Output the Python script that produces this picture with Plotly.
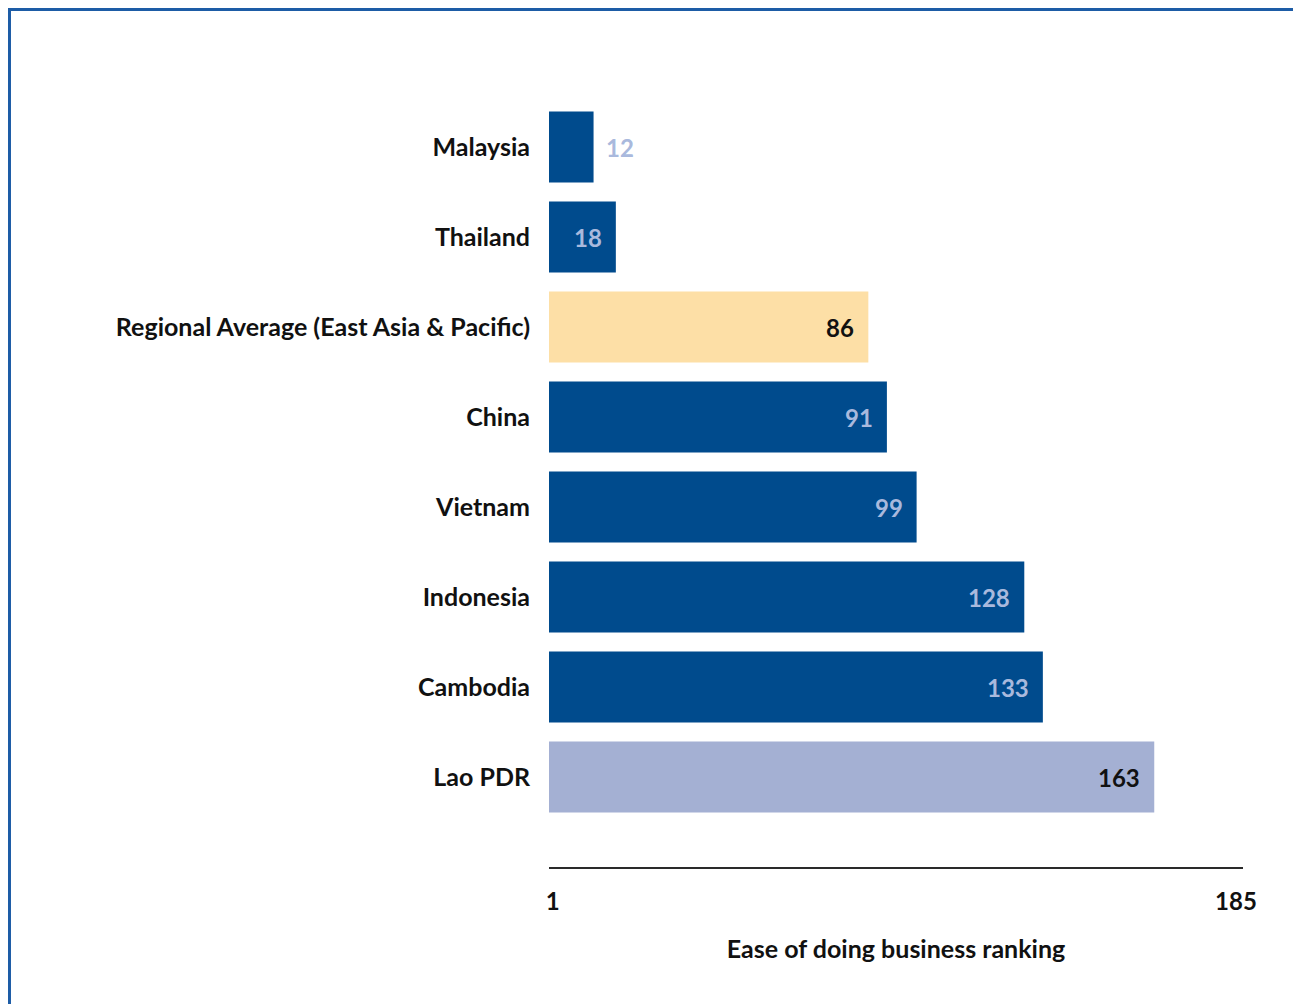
import plotly.graph_objects as go

categories = ["Malaysia", "Thailand", "Regional Average (East Asia & Pacific)", "China",
              "Vietnam", "Indonesia", "Cambodia", "Lao PDR"]
rankings = [12, 18, 86, 91, 99, 128, 133, 163]
bar_colors = ["#004b8d", "#004b8d", "#fddfa6", "#004b8d", "#004b8d", "#004b8d", "#004b8d", "#a4b0d3"]
label_colors = ["#a9b9dd", "#a9b9dd", "#111111", "#a9b9dd", "#a9b9dd", "#a9b9dd", "#a9b9dd", "#111111"]
tick_values = [1, 185]
tick_labels = ["1", "185"]

FONT = "Lato"

fig = go.Figure()
fig.add_trace(go.Bar(
    x=rankings, y=categories, orientation="h",
    marker=dict(color=bar_colors, line=dict(width=0)),
    hoverinfo="skip",
))

for cat, val, col in zip(categories, rankings, label_colors):
    outside = val < 15
    fig.add_annotation(
        x=val, y=cat, text=f"<b>{val}</b>", showarrow=False,
        xanchor="left" if outside else "right",
        xshift=10 if outside else -12,
        font=dict(family=FONT, size=24, color=col),
    )

fig.add_shape(type="rect", xref="paper", yref="paper",
              x0=-0.7774, x1=2.0, y0=-2.0, y1=1.1209,
              line=dict(color="#1d5ca6", width=3), fillcolor="rgba(0,0,0,0)")

fig.update_layout(
    width=1285, height=996,
    margin=dict(l=541, r=50, t=94, b=137),
    paper_bgcolor="white", plot_bgcolor="white",
    bargap=0.21,
    showlegend=False,
    xaxis=dict(
        range=[0, 186.9], showgrid=False, zeroline=False,
        showline=True, linecolor="#2a2a2a", linewidth=2,
        tickvals=tick_values, ticktext=[f"<b>{t}</b>" for t in tick_labels],
        ticks="", ticklabelstandoff=12,
        tickfont=dict(family=FONT, size=24, color="#111111"),
        title=dict(text="<b>Ease of doing business ranking</b>", standoff=27,
                   font=dict(family=FONT, size=25, color="#111111")),
    ),
    yaxis=dict(
        categoryorder="array", categoryarray=categories,
        range=[8.0, -0.5], showgrid=False, zeroline=False, showline=False,
        ticks="", ticklabelstandoff=18,
        tickfont=dict(family=FONT, size=25, color="#111111", weight="bold"),
    ),
)

fig.write_html("out.html")
